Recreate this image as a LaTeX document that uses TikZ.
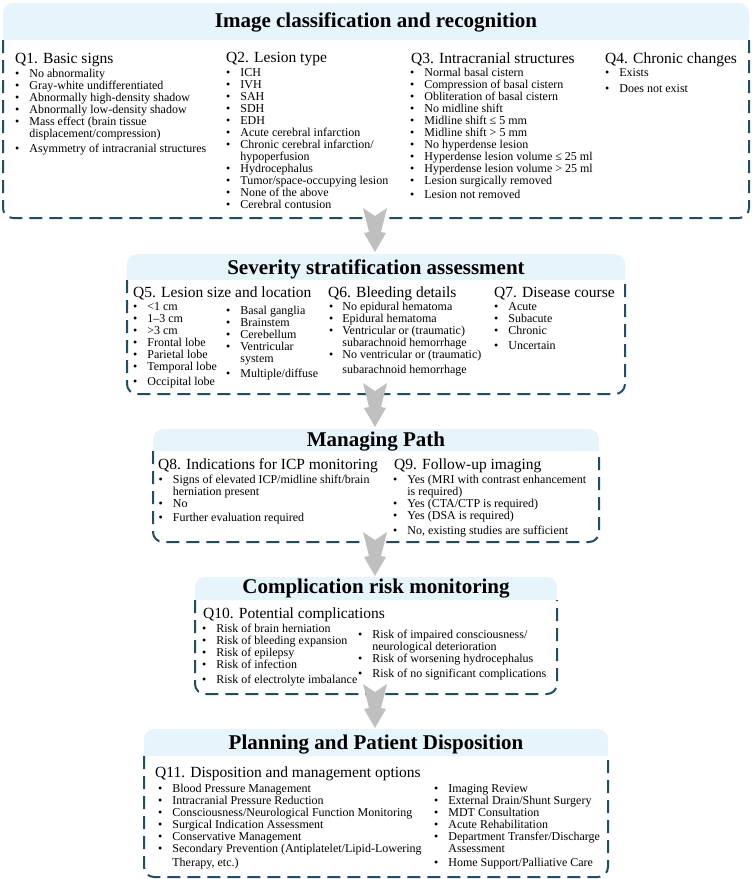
\documentclass[tikz,border=0pt]{standalone}
\usepackage{fontspec}
\setmainfont{Liberation Serif}
\definecolor{headblue}{HTML}{E6F4FB}
\definecolor{framecol}{HTML}{1E4D66}
\definecolor{arrowgray}{HTML}{BFBFBF}
\tikzset{
  title/.style={anchor=base, inner sep=0pt, font=\fontsize{21}{24}\selectfont\bfseries},
  qhead/.style={anchor=base west, inner sep=0pt, font=\fontsize{15.5}{17}\selectfont},
  items/.style={anchor=base west, inner sep=0pt, font=\fontsize{12}{12}\selectfont},
  frame/.style={draw=framecol, line width=2pt, dash pattern=on 13pt off 7pt, rounded corners=10pt},
  band/.style={fill=headblue}
}
\begin{document}
\begin{tikzpicture}[x=1pt,y=-1pt]
\useasboundingbox (0,0) rectangle (752,879);
\fill [band, rounded corners=10pt] (3,3) rectangle (749,40);
\fill [band] (3,20) rectangle (749,40);
\draw [frame] (3,40) -- (3,218) -- (749,218) -- (749,40);
\fill [band, rounded corners=10pt] (127,254) rectangle (625,280);
\fill [band] (127,266) rectangle (625,280);
\draw [frame] (127,280) -- (127,394) -- (625,394) -- (625,280);
\fill [band, rounded corners=10pt] (153,429) rectangle (599,451);
\fill [band] (153,440) rectangle (599,451);
\draw [frame] (153,451) -- (153,542) -- (599,542) -- (599,451);
\fill [band, rounded corners=10pt] (195,577) rectangle (557,600);
\fill [band] (195,588) rectangle (557,600);
\draw [frame] (195,600) -- (195,694) -- (557,694) -- (557,600);
\fill [band, rounded corners=10pt] (144,729) rectangle (608,756);
\fill [band] (144,742) rectangle (608,756);
\draw [frame] (144,756) -- (144,877) -- (608,877) -- (608,756);
\node [title] (t1) at (376,27) {Image classification and recognition};
\node [title] (t2) at (376,274) {Severity stratification assessment};
\node [title] (t3) at (376,446) {Managing Path};
\node [title] (t4) at (376,593) {Complication risk monitoring};
\node [title] (t5) at (376,749) {Planning and Patient Disposition};
\node [qhead] (q1) at (15,63) {Q1. Basic signs};
\node [items] (l1) at (15,77) {\begin{tabular}[t]{@{}l@{\hspace{10pt}}l@{}}
\textbullet & No abnormality\\
\textbullet & Gray-white undifferentiated\\
\textbullet & Abnormally high-density shadow\\
\textbullet & Abnormally low-density shadow\\
\textbullet & Mass effect (brain tissue\\
 & displacement/compression)\\[3pt]
\textbullet & Asymmetry of intracranial structures
\end{tabular}};
\node [qhead] (q2) at (226,62) {Q2. Lesion type};
\node [items] (l2) at (226,76) {\begin{tabular}[t]{@{}l@{\hspace{10pt}}l@{}}
\textbullet & ICH\\
\textbullet & IVH\\
\textbullet & SAH\\
\textbullet & SDH\\
\textbullet & EDH\\
\textbullet & Acute cerebral infarction\\
\textbullet & Chronic cerebral infarction/\\
 & hypoperfusion\\
\textbullet & Hydrocephalus\\
\textbullet & Tumor/space-occupying lesion\\
\textbullet & None of the above\\
\textbullet & Cerebral contusion
\end{tabular}};
\node [qhead] (q3) at (411,63) {Q3. Intracranial structures};
\node [items] (l3) at (410,76) {\begin{tabular}[t]{@{}l@{\hspace{10pt}}l@{}}
\textbullet & Normal basal cistern\\
\textbullet & Compression of basal cistern\\
\textbullet & Obliteration of basal cistern\\
\textbullet & No midline shift\\
\textbullet & Midline shift ≤ 5 mm\\
\textbullet & Midline shift > 5 mm\\
\textbullet & No hyperdense lesion\\
\textbullet & Hyperdense lesion volume ≤ 25 ml\\
\textbullet & Hyperdense lesion volume > 25 ml\\
\textbullet & Lesion surgically removed\\[2pt]
\textbullet & Lesion not removed
\end{tabular}};
\node [qhead] (q4) at (605,63) {Q4. Chronic changes};
\node [items] (l4) at (605,76) {\begin{tabular}[t]{@{}l@{\hspace{10pt}}l@{}}
\textbullet & Exists\\[4pt]
\textbullet & Does not exist
\end{tabular}};
\node [qhead] (q5) at (133,297) {Q5. Lesion size and location};
\node [items] (l5a) at (133,310) {\begin{tabular}[t]{@{}l@{\hspace{10pt}}l@{}}
\textbullet & <1 cm\\
\textbullet & 1–3 cm\\
\textbullet & >3 cm\\
\textbullet & Frontal lobe\\
\textbullet & Parietal lobe\\
\textbullet & Temporal lobe\\[3pt]
\textbullet & Occipital lobe
\end{tabular}};
\node [items] (l5b) at (226,314) {\begin{tabular}[t]{@{}l@{\hspace{10pt}}l@{}}
\textbullet & Basal ganglia\\
\textbullet & Brainstem\\
\textbullet & Cerebellum\\
\textbullet & Ventricular\\
 & system\\[3pt]
\textbullet & Multiple/diffuse
\end{tabular}};
\node [qhead] (q6) at (328,297) {Q6. Bleeding details};
\node [items] (l6) at (329,310) {\begin{tabular}[t]{@{}l@{\hspace{9pt}}l@{}}
\textbullet & No epidural hematoma\\
\textbullet & Epidural hematoma\\
\textbullet & Ventricular or (traumatic)\\
 & subarachnoid hemorrhage\\
\textbullet & No ventricular or (traumatic)\\[3pt]
 & subarachnoid hemorrhage
\end{tabular}};
\node [qhead] (q7) at (494,297) {Q7. Disease course};
\node [items] (l7) at (494,310) {\begin{tabular}[t]{@{}l@{\hspace{10pt}}l@{}}
\textbullet & Acute\\
\textbullet & Subacute\\
\textbullet & Chronic\\[3pt]
\textbullet & Uncertain
\end{tabular}};
\node [qhead] (q8) at (158,469) {Q8. Indications for ICP monitoring};
\node [items] (l8) at (158.5,483) {\begin{tabular}[t]{@{}l@{\hspace{10pt}}l@{}}
\textbullet & Signs of elevated ICP/midline shift/brain\\
 & herniation present\\
\textbullet & No\\[2pt]
\textbullet & Further evaluation required
\end{tabular}};
\node [qhead] (q9) at (394,469) {Q9. Follow-up imaging};
\node [items] (l9) at (393,483) {\begin{tabular}[t]{@{}l@{\hspace{10pt}}l@{}}
\textbullet & Yes (MRI with contrast enhancement\\
 & is required)\\
\textbullet & Yes (CTA/CTP is required)\\
\textbullet & Yes (DSA is required)\\[3pt]
\textbullet & No, existing studies are sufficient
\end{tabular}};
\node [qhead] (q10) at (203,618) {Q10. Potential complications};
\node [items] (l10a) at (202,632) {\begin{tabular}[t]{@{}l@{\hspace{10pt}}l@{}}
\textbullet & Risk of brain herniation\\
\textbullet & Risk of bleeding expansion\\
\textbullet & Risk of epilepsy\\
\textbullet & Risk of infection\\[3pt]
\textbullet & Risk of electrolyte imbalance
\end{tabular}};
\node [items] (l10b) at (358,638) {\begin{tabular}[t]{@{}l@{\hspace{10pt}}l@{}}
\textbullet & Risk of impaired consciousness/\\
 & neurological deterioration\\
\textbullet & Risk of worsening hydrocephalus\\[3pt]
\textbullet & Risk of no significant complications
\end{tabular}};
\node [qhead] (q11) at (155,777) {Q11. Disposition and management options};
\node [items] (l11a) at (158,792) {\begin{tabular}[t]{@{}l@{\hspace{10pt}}l@{}}
\textbullet & Blood Pressure Management\\
\textbullet & Intracranial Pressure Reduction\\
\textbullet & Consciousness/Neurological Function Monitoring\\
\textbullet & Surgical Indication Assessment\\
\textbullet & Conservative Management\\
\textbullet & Secondary Prevention (Antiplatelet/Lipid-Lowering\\[2pt]
 & Therapy, etc.)
\end{tabular}};
\node [items] (l11b) at (434,792) {\begin{tabular}[t]{@{}l@{\hspace{10pt}}l@{}}
\textbullet & Imaging Review\\
\textbullet & External Drain/Shunt Surgery\\
\textbullet & MDT Consultation\\
\textbullet & Acute Rehabilitation\\
\textbullet & Department Transfer/Discharge\\
 & Assessment\\[2pt]
\textbullet & Home Support/Palliative Care
\end{tabular}};
\foreach \y in {208,383,532,684}
  \fill [arrowgray, shift={(375,\y)}] (-12,0) -- (0,8) -- (12,0) -- (6,24) -- (11,25) -- (0,44) -- (-11,25) -- (-6,24) -- cycle;
\end{tikzpicture}
\end{document}
